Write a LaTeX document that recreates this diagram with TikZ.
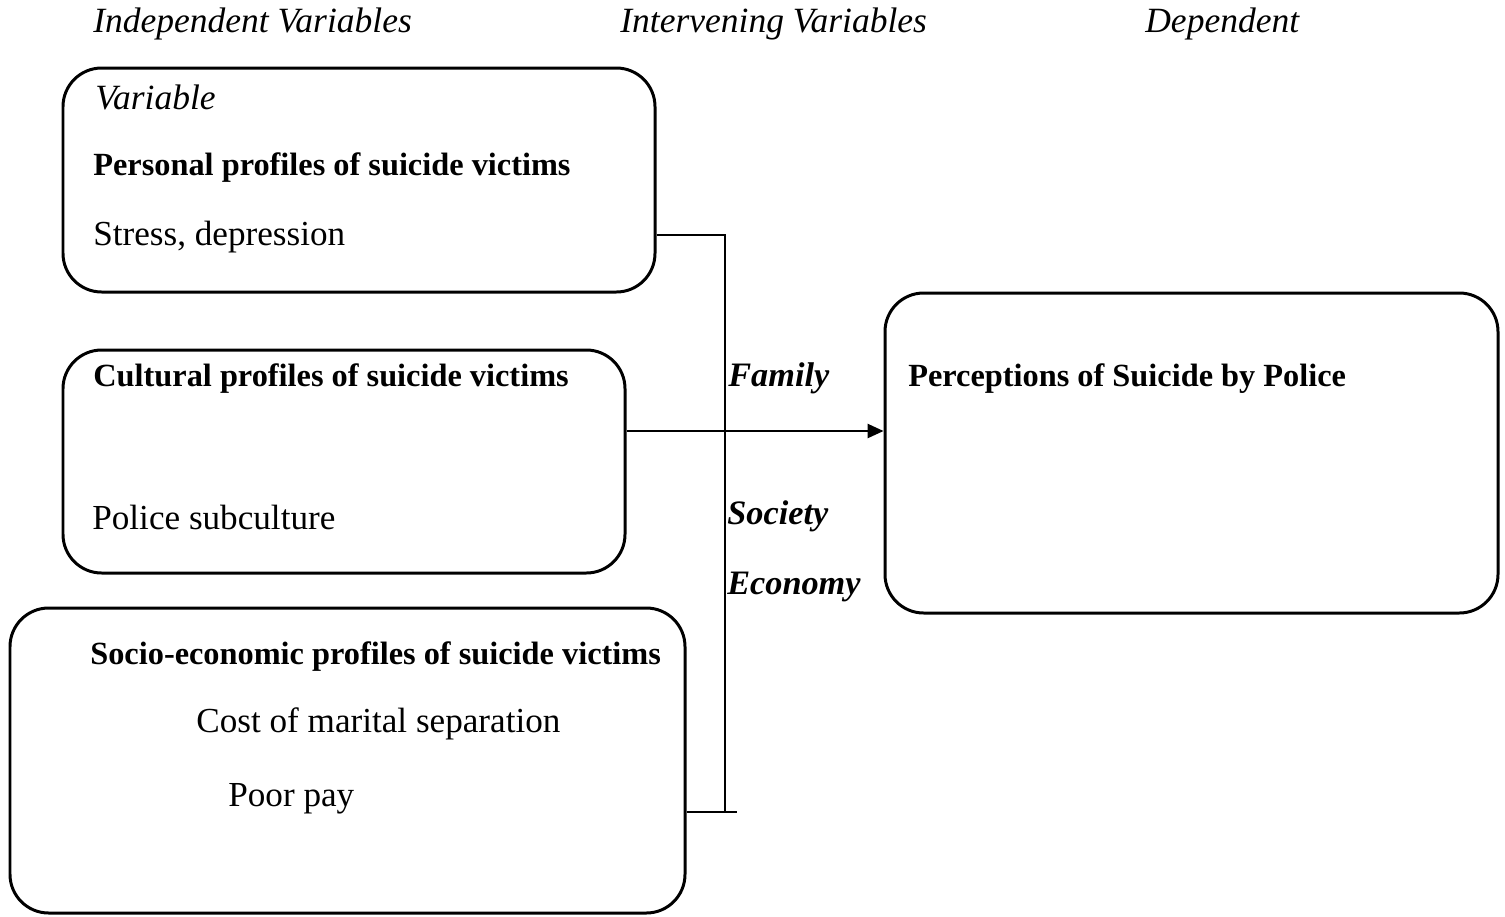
\documentclass[tikz,border=0pt]{standalone}
\usepackage{fontspec}
\setmainfont{Liberation Serif}
\usetikzlibrary{arrows.meta}
\tikzset{
  box/.style={draw, line width=1.7pt, rounded corners=22pt, rectangle, inner sep=0pt},
  lbl/.style={anchor=west, inner sep=0pt, font=\fontsize{20}{24}\selectfont},
  hd/.style={lbl, font=\fontsize{20.2}{24}\selectfont\itshape},
  bld/.style={lbl, font=\fontsize{18.4}{22}\selectfont\bfseries},
  bit/.style={lbl, font=\fontsize{19.5}{23}\selectfont\bfseries\itshape},
  conn/.style={line width=1.1pt},
}
\begin{document}
\begin{tikzpicture}
\useasboundingbox (0,0) rectangle (30.1,-18.32);
% boxes
\node[box, minimum width=11.84cm, minimum height=4.48cm] (b1) at (7.18,-3.6) {};
\node[box, minimum width=11.24cm, minimum height=4.46cm] (b2) at (6.88,-9.23) {};
\node[box, minimum width=13.5cm, minimum height=6.1cm] (b3) at (6.95,-15.21) {};
\node[box, minimum width=12.26cm, minimum height=6.4cm] (b4) at (23.83,-9.06) {};
% headings
\node[hd] (ind) at (1.86,-0.48) {Independent Variables};
\node[hd] (int) at (12.4,-0.48) {Intervening Variables};
\node[hd] (dep) at (22.9,-0.48) {Dependent};
% box 1
\node[hd] (var) at (1.9,-1.94) {Variable};
\node[bld] (pers) at (1.86,-3.36) {Personal profiles of suicide victims};
\node[lbl] (stress) at (1.86,-4.74) {Stress, depression};
% box 2
\node[bld] (cult) at (1.86,-7.58) {Cultural profiles of suicide victims};
\node[lbl] (police) at (1.84,-10.34) {Police subculture};
% box 3
\node[bld] (socio) at (1.8,-13.14) {Socio-economic profiles of suicide victims};
\node[lbl] (cost) at (3.92,-14.48) {Cost of marital separation};
\node[lbl] (poor) at (4.56,-15.98) {Poor pay};
% box 4
\node[bld] (perc) at (18.16,-7.58) {Perceptions of Suicide by Police};
% intervening
\node[bit] (fam) at (14.56,-7.56) {Family};
\node[bit] (soc) at (14.54,-10.32) {Society};
\node[bit] (eco) at (14.54,-11.74) {Economy};
% connectors
\coordinate (top) at (14.5,-4.7);
\coordinate (bot) at (14.5,-16.24);
\coordinate (botend) at (14.74,-16.24);
\coordinate (mid) at (14.5,-8.62);
\draw[conn] (b1.east |- top) -- (top) -- (bot);
\draw[conn] (b3.east |- bot) -- (botend);
\draw[conn, -{Triangle[length=9pt,width=8pt]}] (b2.east |- mid) -- (b4.west |- mid);
\end{tikzpicture}
\end{document}
